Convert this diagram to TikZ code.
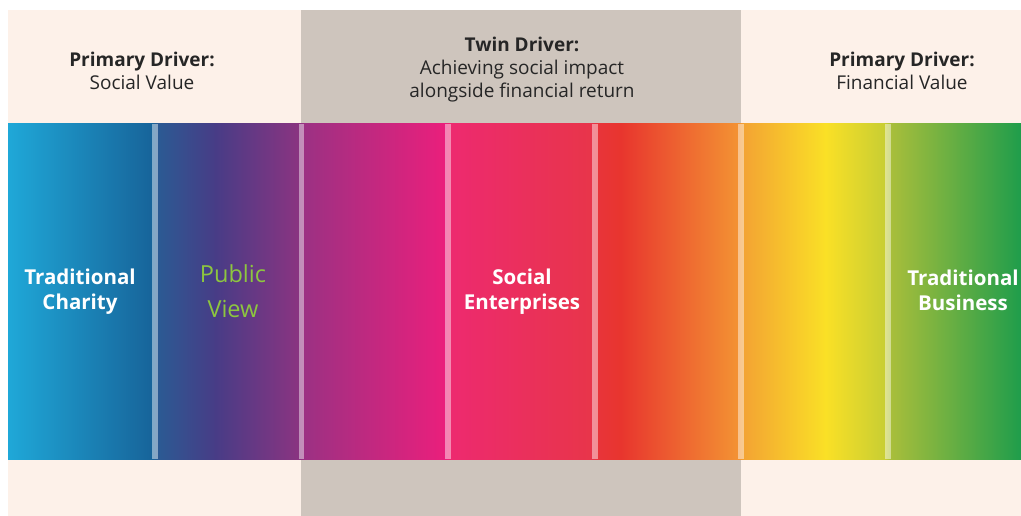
\documentclass[tikz,border=0pt]{standalone}
\usepackage{fontspec}
\setmainfont{Open Sans}
\definecolor{beige}{HTML}{FDF1E9}
\definecolor{greybox}{HTML}{CEC5BD}
\definecolor{pubgreen}{HTML}{8DC63F}
\definecolor{cAL}{HTML}{1FA8D8}\definecolor{cAR}{HTML}{17649A}
\definecolor{cBL}{HTML}{2B5A93}\definecolor{cBM}{HTML}{483C86}\definecolor{cBR}{HTML}{8A3481}
\definecolor{cCL}{HTML}{9C3183}\definecolor{cCR}{HTML}{EA1F7C}
\definecolor{cDL}{HTML}{ED2A6F}\definecolor{cDR}{HTML}{E8354A}
\definecolor{cEL}{HTML}{E8343A}\definecolor{cEM}{HTML}{E8352E}\definecolor{cER}{HTML}{F39233}
\definecolor{cFL}{HTML}{F3A433}\definecolor{cFM}{HTML}{FAE026}\definecolor{cFR}{HTML}{C8CE33}
\definecolor{cGL}{HTML}{A8BE3B}\definecolor{cGR}{HTML}{1F9D4B}
\tikzset{
  headtext/.style={align=center, text=black!85, font=\fontsize{19}{23}\selectfont, inner sep=0pt},
  bandtext/.style={align=center, text=white, font=\bfseries\fontsize{20.5}{25}\selectfont, inner sep=0pt},
  pubtext/.style={align=center, text=pubgreen, font=\fontsize{23.5}{35}\selectfont, inner sep=0pt},
  sepstripe/.style={fill=white, fill opacity=0.45}
}
\begin{document}
\begin{tikzpicture}[x=1pt,y=-1pt]
\useasboundingbox (0,0) rectangle (1021,516);
\fill[white] (0,0) rectangle (1021,516);
% backgrounds
\fill[beige] (8,10) rectangle (1021,516);
\fill[greybox] (301,10) rectangle (741,125);
\fill[greybox] (301,459) rectangle (741,516);
% bands
\shade[left color=cAL, right color=cAR] (8,124) rectangle (152,459);
\shade[left color=cAR, right color=cBL] (152,124) rectangle (158,459);
\shade[left color=cBL, right color=cBM] (158,124) rectangle (216,459);
\shade[left color=cBM, right color=cBR] (215.5,124) rectangle (299,459);
\shade[left color=cBR, right color=cCL] (299,124) rectangle (304,459);
\shade[left color=cCL, right color=cCR] (304,124) rectangle (445,459);
\shade[left color=cCR, right color=cDL] (445,124) rectangle (451,459);
\shade[left color=cDL, right color=cDR] (451,124) rectangle (592,459);
\shade[left color=cDR, right color=cEL] (592,124) rectangle (598,459);
\shade[left color=cEL, right color=cEM] (598,124) rectangle (621,459);
\shade[left color=cEM, right color=cER] (620.5,124) rectangle (738,459);
\shade[left color=cER, right color=cFL] (738,124) rectangle (744,459);
\shade[left color=cFL, right color=cFM] (744,124) rectangle (826,459);
\shade[left color=cFM, right color=cFR] (825.5,124) rectangle (885,459);
\shade[left color=cFR, right color=cGL] (885,124) rectangle (891,459);
\shade[left color=cGL, right color=cGR] (891,124) rectangle (1021,459);
% separators
\fill[sepstripe] (152,124) rectangle (158,459);
\fill[sepstripe] (299,124) rectangle (304,459);
\fill[sepstripe] (445,124) rectangle (451,459);
\fill[sepstripe] (592,124) rectangle (598,459);
\fill[sepstripe] (738,124) rectangle (744,459);
\fill[sepstripe] (885,124) rectangle (891,459);
% header texts
\node[headtext] (hl) at (142,71) {\textbf{Primary Driver:}\\Social Value};
\node[headtext] (hm) at (522,70) {\textbf{Twin Driver:}\\Achieving social impact\\alongside financial return};
\node[headtext] (hr) at (902,71) {\textbf{Primary Driver:}\\Financial Value};
% band texts
\node[bandtext] (tc) at (80,292) {Traditional\\Charity};
\node[pubtext] (pv) at (233,291) {Public\\View};
\node[bandtext] (se) at (522,292) {Social\\Enterprises};
\node[bandtext] (tb) at (963,290) {Traditional\\Business};
\end{tikzpicture}
\end{document}
